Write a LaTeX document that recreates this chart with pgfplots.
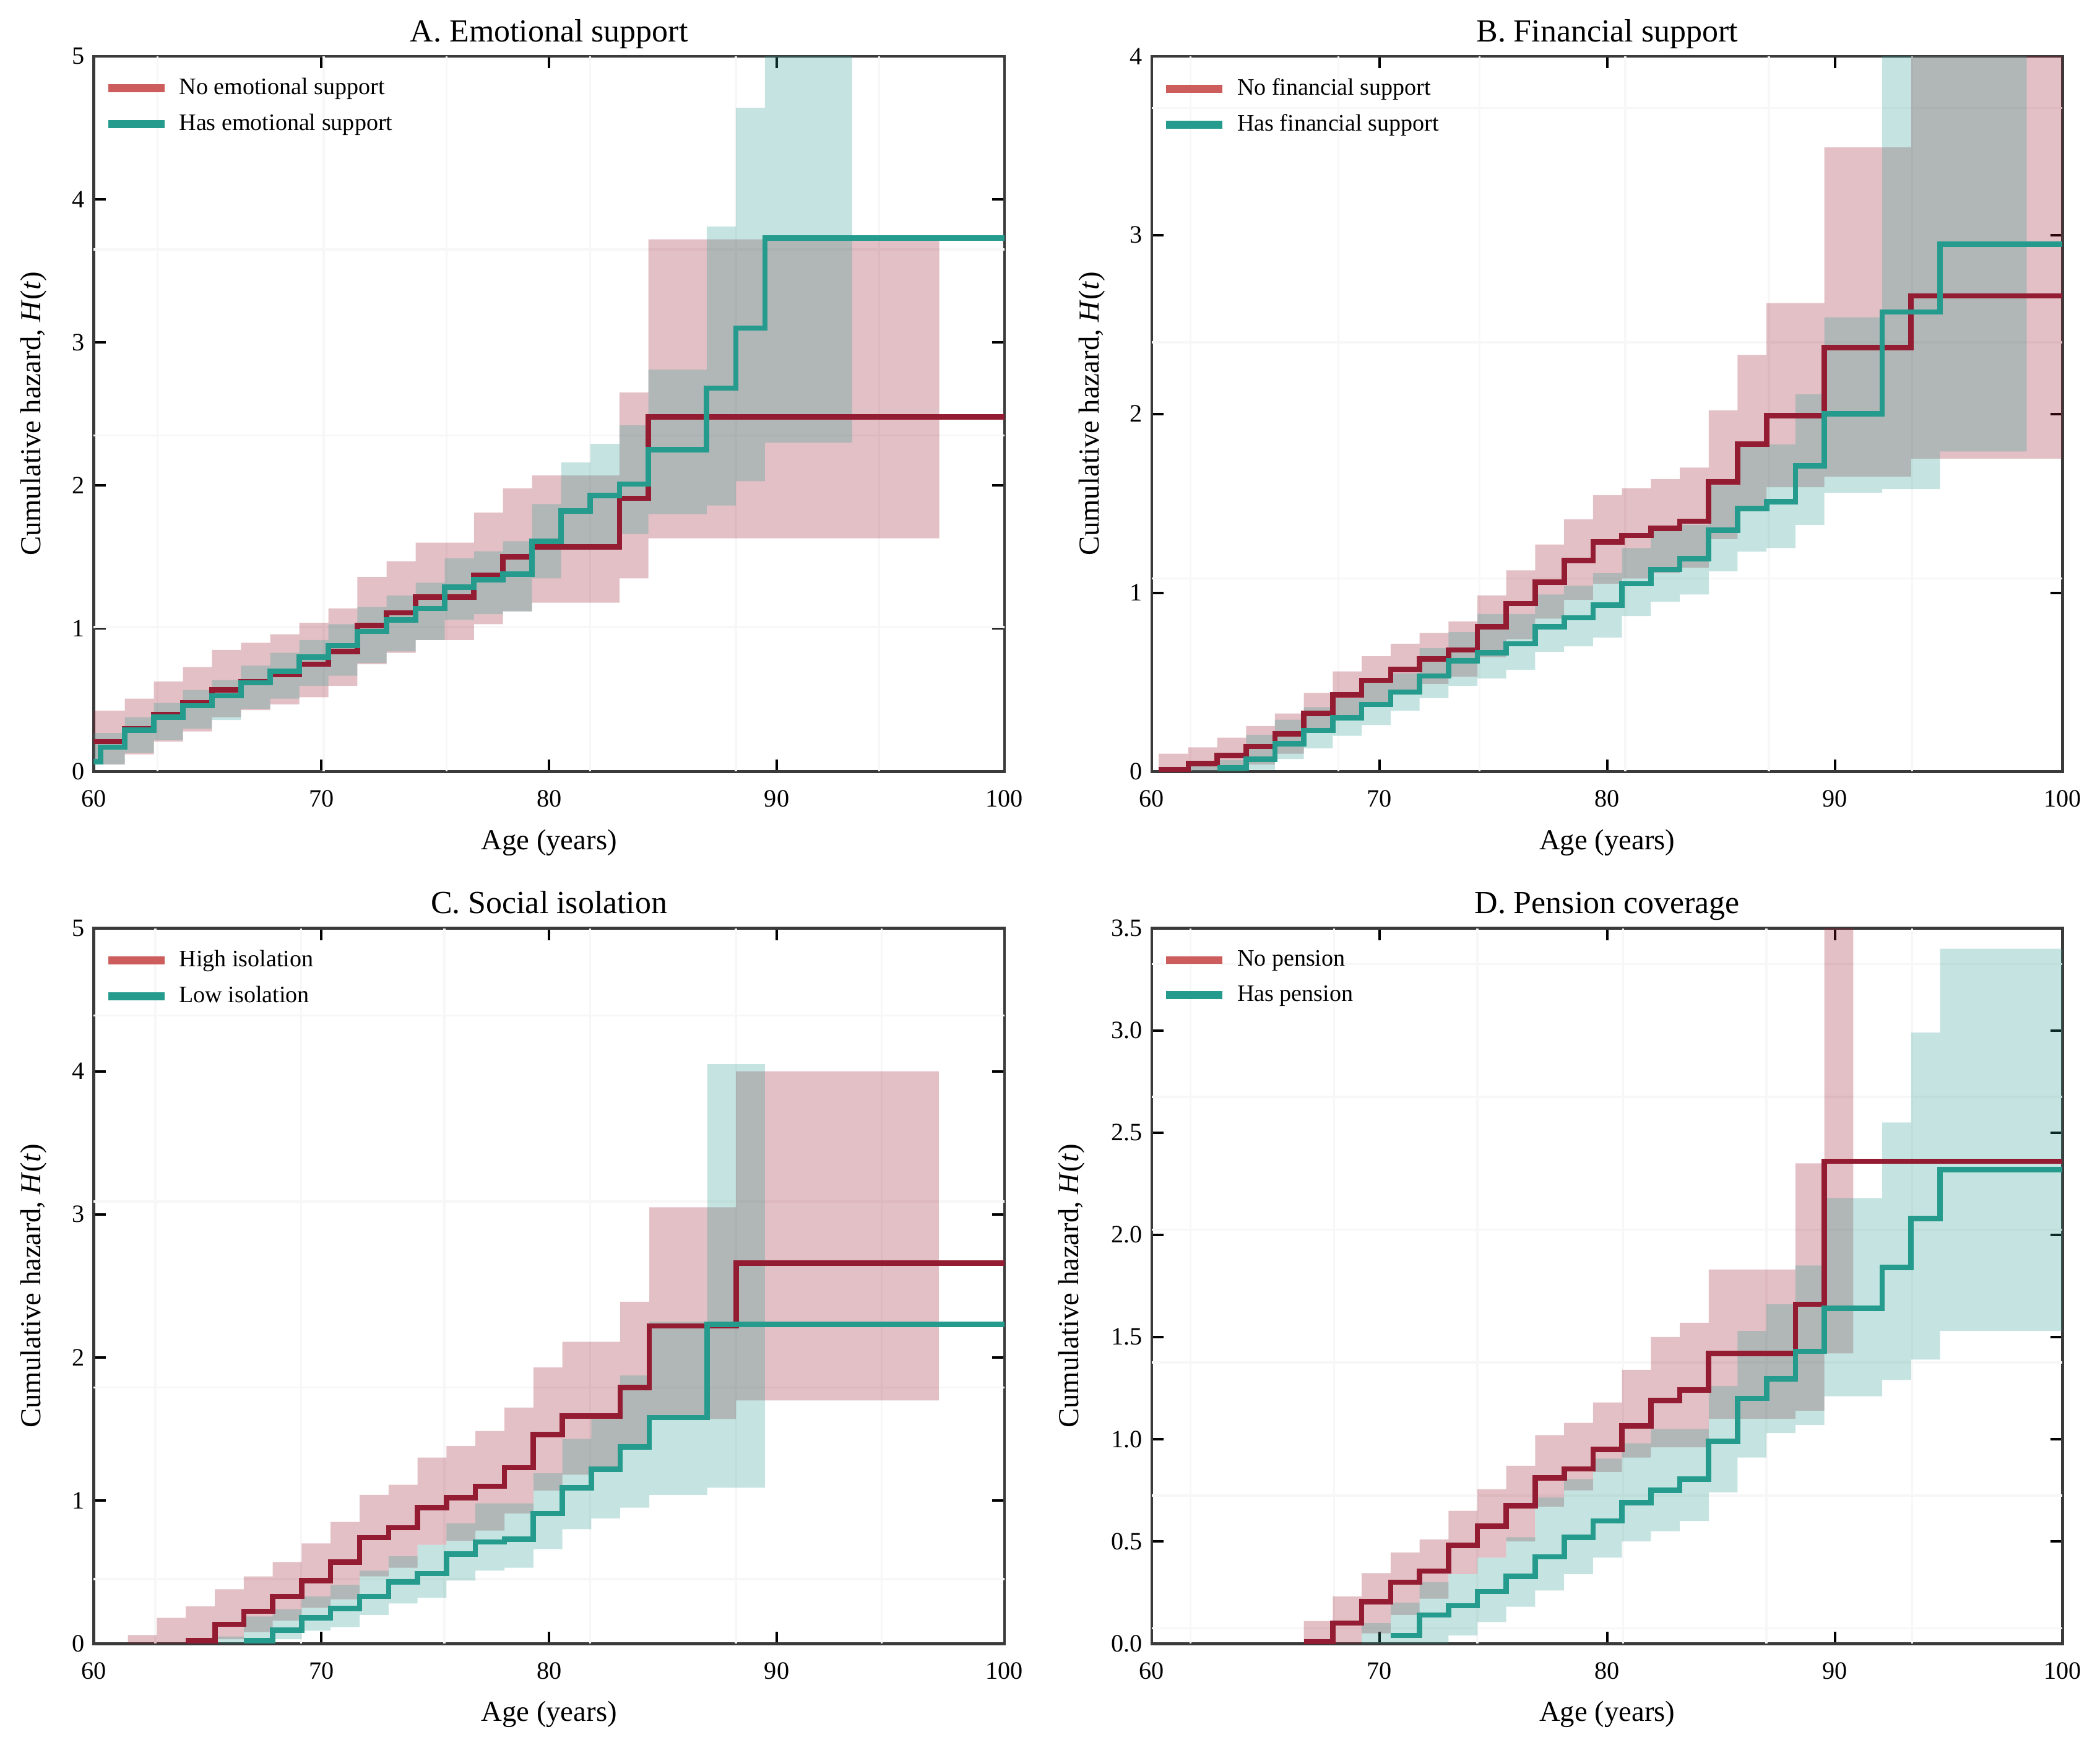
\documentclass[border=0pt]{standalone}
\usepackage{fontspec}
\setmainfont{Liberation Serif}
\usepackage{pgfplots}
\pgfplotsset{compat=1.18}
\definecolor{redline}{RGB}{148,28,50}
\definecolor{legred}{RGB}{205,92,92}
\definecolor{tealc}{RGB}{36,155,141}
\definecolor{bandred}{RGB}{155,27,48}
\definecolor{bandteal}{RGB}{42,157,143}
\definecolor{frame}{RGB}{58,58,58}
\pgfplotsset{
  kmstyle/.style={
    scale only axis, width=340pt, height=267pt,
    xmin=60, xmax=100, xtick={60,70,80,90,100},
    axis line style={draw=frame, line width=1.1pt},
    tick align=inside, major tick length=4.5pt,
    tick style={black, line width=0.9pt},
    /pgf/number format/assume math mode=true,
    every tick label/.append style={font=\fontsize{9.3}{11}\selectfont},
    xticklabel style={yshift=-3.5pt},
    clip=true,
    title style={font=\fontsize{12}{14}\selectfont, at={(0.5,1)}, anchor=base, yshift=-0.5pt},
    xlabel={Age (years)},
    xlabel style={font=\fontsize{10.8}{12}\selectfont, at={(axis description cs:0.5,-0.099)}, anchor=center},
    ylabel={Cumulative hazard, \textit{H}(\textit{t})},
    ylabel style={font=\fontsize{10.8}{12}\selectfont, anchor=center},
    extra x tick labels={}, extra y tick labels={},
    extra x tick style={grid=major, major tick length=0pt},
    extra y tick style={grid=major, major tick length=0pt},
    major grid style={color=black!3, line width=0.8pt},
    legend cell align=left,
    legend style={at={(axis description cs:0.005,0.985)}, anchor=north west, draw=none, fill=none,
      font=\fontsize{8.8}{10}\selectfont, row sep=1.8pt, inner sep=2pt,
      nodes={inner xsep=4pt}},
    legend image code/.code={\draw[#1] (0pt,0pt) -- (21pt,0pt);},
  },
  rband/.style={const plot, fill=bandred, fill opacity=0.28, draw=none, forget plot},
  tband/.style={const plot, fill=bandteal, fill opacity=0.27, draw=none, forget plot},
  rl/.style={redline, line width=2pt, const plot, forget plot},
  tl/.style={tealc, line width=2pt, const plot, forget plot},
}
\begin{document}
\begin{tikzpicture}
\path[use as bounding box] (0pt,0pt) rectangle (784pt,-651.35pt);

% ---------------- A ----------------
\begin{axis}[kmstyle, at={(35pt,-288pt)}, anchor=south west,
  title={A. Emotional support}, ymin=0, ymax=5, ytick={0,1,2,3,4,5},
  ylabel style={at={(axis description cs:-0.066,0.5)}},
  extra x ticks={62.8,70.1,75.5,81.8,88.2,94.5}, extra y ticks={1.01,2.35,3.65}]
\addlegendimage{legred, line width=3pt}\addlegendentry{No emotional support}
\addlegendimage{tealc, line width=3pt}\addlegendentry{Has emotional support}
% band: upper (forward) then lower (backward)
\addplot[rband] coordinates {(60,0.425)(61.36,0.51)(62.64,0.63)(63.92,0.73)(65.19,0.85)(66.47,0.90)(67.75,0.96)(69.03,1.04)(70.31,1.14)(71.58,1.36)(72.86,1.47)(74.14,1.60)(76.70,1.81)(77.97,1.98)(79.25,2.07)(83.09,2.65)(84.36,3.72)(97.14,3.72)
 (97.14,1.63)(84.36,1.35)(83.09,1.18)(79.25,1.12)(77.97,1.03)(76.70,0.92)(74.14,0.83)(72.86,0.75)(71.58,0.60)(70.31,0.52)(69.03,0.47)(67.75,0.43)(66.47,0.38)(65.19,0.28)(63.92,0.21)(62.64,0.12)(61.36,0.05)(60,0.05)};
\addplot[tband] coordinates {(60,0.27)(61.36,0.38)(62.64,0.48)(63.92,0.57)(65.19,0.64)(66.47,0.74)(67.75,0.83)(69.03,0.92)(70.31,1.03)(71.58,1.15)(72.86,1.23)(74.14,1.32)(75.42,1.49)(76.70,1.54)(77.97,1.61)(79.25,1.87)(80.53,2.16)(81.81,2.29)(83.09,2.42)(84.36,2.81)(86.92,3.81)(88.20,4.64)(89.48,6)(93.31,6)
 (93.31,2.30)(89.48,2.03)(88.20,1.86)(86.92,1.80)(84.36,1.66)(83.09,1.55)(80.53,1.35)(79.25,1.12)(77.97,1.10)(76.70,1.06)(75.42,0.92)(74.14,0.84)(72.86,0.76)(71.58,0.67)(70.31,0.60)(69.03,0.51)(67.75,0.44)(66.47,0.36)(65.19,0.30)(63.92,0.22)(62.64,0.13)(61.36,0.05)(60,0.05)};
\addplot[rl] coordinates {(60,0.21)(61.36,0.30)(62.64,0.40)(63.92,0.48)(65.19,0.57)(66.47,0.63)(67.75,0.68)(69.03,0.75)(70.31,0.84)(71.58,1.02)(72.86,1.11)(74.14,1.22)(76.70,1.37)(77.97,1.50)(79.25,1.57)(83.09,1.91)(84.36,2.48)(100,2.48)};
\addplot[tl] coordinates {(60,0.07)(60.3,0.17)(61.36,0.29)(62.64,0.38)(63.92,0.46)(65.19,0.53)(66.47,0.62)(67.75,0.70)(69.03,0.80)(70.31,0.88)(71.58,0.98)(72.86,1.06)(74.14,1.14)(75.42,1.29)(76.70,1.34)(77.97,1.38)(79.25,1.61)(80.53,1.82)(81.81,1.93)(83.09,2.01)(84.36,2.25)(86.92,2.68)(88.20,3.10)(89.48,3.73)(100,3.73)};
\end{axis}

% ---------------- B ----------------
\begin{axis}[kmstyle, at={(430pt,-288pt)}, anchor=south west,
  title={B. Financial support}, ymin=0, ymax=4, ytick={0,1,2,3,4},
  ylabel style={at={(axis description cs:-0.066,0.5)}},
  extra x ticks={61.7,68.2,74.4,80.8,87.1,93.4}, extra y ticks={1.08,2.40,3.71}]
\addlegendimage{legred, line width=3pt}\addlegendentry{No financial support}
\addlegendimage{tealc, line width=3pt}\addlegendentry{Has financial support}
\addplot[rband] coordinates {(60.3,0.10)(61.60,0.135)(62.87,0.19)(64.14,0.255)(65.41,0.325)(66.68,0.44)(67.95,0.56)(69.22,0.645)(70.49,0.715)(71.76,0.775)(73.03,0.84)(74.30,0.985)(75.57,1.125)(76.84,1.27)(78.11,1.41)(79.38,1.545)(80.65,1.585)(81.92,1.635)(83.19,1.70)(84.46,2.02)(85.73,2.33)(87.00,2.62)(89.54,3.49)(93.35,5)(100,5)
 (100,1.75)(93.35,1.65)(89.54,1.59)(87.00,1.455)(85.73,1.30)(84.46,1.14)(83.19,1.11)(81.92,1.08)(80.65,1.05)(79.38,0.96)(78.11,0.855)(76.84,0.74)(75.57,0.64)(74.30,0.53)(73.03,0.49)(71.76,0.43)(70.49,0.38)(69.22,0.31)(67.95,0.22)(66.68,0.10)(65.41,0.04)(64.14,0.01)(62.87,0)(60.3,0)};
\addplot[tband] coordinates {(61.60,0.03)(62.87,0.065)(64.14,0.205)(65.41,0.29)(66.68,0.36)(67.95,0.41)(69.22,0.50)(70.49,0.55)(71.76,0.69)(73.03,0.78)(74.30,0.88)(76.84,0.99)(78.11,1.04)(79.38,1.11)(80.65,1.25)(81.92,1.37)(83.19,1.38)(84.46,1.60)(85.73,1.83)(88.27,2.11)(89.54,2.54)(92.08,5)(98.43,5)
 (98.43,1.79)(94.62,1.58)(92.08,1.56)(89.54,1.38)(88.27,1.25)(87.00,1.23)(85.73,1.12)(84.46,0.99)(83.19,0.95)(81.92,0.87)(80.65,0.75)(79.38,0.70)(78.11,0.67)(76.84,0.57)(75.57,0.52)(74.30,0.48)(73.03,0.41)(71.76,0.34)(70.49,0.26)(69.22,0.20)(67.95,0.13)(66.68,0.07)(65.41,0.01)(64.14,0)(61.60,0)};
\addplot[rl] coordinates {(60.3,0.01)(61.60,0.045)(62.87,0.09)(64.14,0.14)(65.41,0.21)(66.68,0.325)(67.95,0.43)(69.22,0.51)(70.49,0.57)(71.76,0.63)(73.03,0.68)(74.30,0.81)(75.57,0.94)(76.84,1.06)(78.11,1.18)(79.38,1.285)(80.65,1.32)(81.92,1.36)(83.19,1.40)(84.46,1.62)(85.73,1.83)(87.00,1.99)(89.54,2.37)(93.35,2.66)(100,2.66)};
\addplot[tl] coordinates {(62.87,0.02)(64.14,0.07)(65.41,0.155)(66.68,0.23)(67.95,0.30)(69.22,0.375)(70.49,0.445)(71.76,0.535)(73.03,0.62)(74.30,0.665)(75.57,0.715)(76.84,0.81)(78.11,0.86)(79.38,0.93)(80.65,1.05)(81.92,1.13)(83.19,1.19)(84.46,1.35)(85.73,1.47)(87.00,1.51)(88.27,1.71)(89.54,2.00)(92.08,2.57)(94.62,2.95)(100,2.95)};
\end{axis}

% ---------------- C ----------------
\begin{axis}[kmstyle, at={(35pt,-613.5pt)}, anchor=south west,
  title={C. Social isolation}, ymin=0, ymax=5, ytick={0,1,2,3,4,5},
  ylabel style={at={(axis description cs:-0.066,0.5)}},
  extra x ticks={62.7,69.1,75.4,81.8,88.2,94.6}, extra y ticks={0.45,1.79,3.09,4.39}]
\addlegendimage{legred, line width=3pt}\addlegendentry{High isolation}
\addlegendimage{tealc, line width=3pt}\addlegendentry{Low isolation}
\addplot[rband] coordinates {(61.50,0.06)(62.77,0.18)(64.04,0.26)(65.32,0.38)(66.59,0.47)(67.86,0.57)(69.13,0.70)(70.40,0.85)(71.68,1.04)(72.95,1.11)(74.22,1.30)(75.49,1.38)(76.76,1.485)(78.04,1.65)(79.31,1.93)(80.58,2.11)(83.12,2.39)(84.40,3.05)(88.21,4.0)(97.12,4.0)
 (97.12,1.70)(88.21,1.57)(84.40,1.36)(83.12,1.23)(81.85,1.18)(80.58,1.07)(79.31,0.91)(78.04,0.79)(76.76,0.72)(75.49,0.69)(74.22,0.53)(72.95,0.47)(71.68,0.31)(70.40,0.25)(69.13,0.16)(67.86,0.08)(66.59,0.03)(65.32,0)(61.50,0)};
\addplot[tband] coordinates {(65.32,0.05)(66.59,0.19)(67.86,0.24)(69.13,0.33)(70.40,0.41)(71.68,0.51)(72.95,0.61)(74.22,0.69)(75.49,0.84)(76.76,0.98)(79.31,1.19)(80.58,1.43)(81.85,1.57)(83.12,1.875)(84.40,2.25)(86.94,4.05)(89.48,4.05)
 (89.48,1.09)(86.94,1.04)(84.40,0.95)(83.12,0.875)(81.85,0.80)(80.58,0.66)(79.31,0.53)(78.04,0.51)(76.76,0.44)(75.49,0.32)(74.22,0.28)(72.95,0.20)(71.68,0.115)(70.40,0.09)(69.13,0.03)(67.86,0)(65.32,0)};
\addplot[rl] coordinates {(64.04,0.02)(65.32,0.135)(66.59,0.225)(67.86,0.33)(69.13,0.44)(70.40,0.57)(71.68,0.74)(72.95,0.81)(74.22,0.95)(75.49,1.02)(76.76,1.10)(78.04,1.23)(79.31,1.46)(80.58,1.59)(83.12,1.79)(84.40,2.22)(88.21,2.66)(100,2.66)};
\addplot[tl] coordinates {(66.59,0.02)(67.86,0.095)(69.13,0.18)(70.40,0.245)(71.68,0.33)(72.95,0.43)(74.22,0.49)(75.49,0.625)(76.76,0.71)(78.04,0.73)(79.31,0.91)(80.58,1.09)(81.85,1.22)(83.12,1.375)(84.40,1.58)(86.94,2.23)(100,2.23)};
\end{axis}

% ---------------- D ----------------
\begin{axis}[kmstyle, at={(430pt,-613.5pt)}, anchor=south west,
  title={D. Pension coverage}, ymin=0, ymax=3.5, ytick={0,0.5,1,1.5,2,2.5,3,3.5},
  yticklabel style={/pgf/number format/.cd, fixed, fixed zerofill, precision=1},
  ylabel style={at={(axis description cs:-0.088,0.5)}},
  extra x ticks={61.7,68.0,74.3,80.7,87.0,93.4}, extra y ticks={0.075,0.725,1.375,2.025,2.675,3.325}]
\addlegendimage{legred, line width=3pt}\addlegendentry{No pension}
\addlegendimage{tealc, line width=3pt}\addlegendentry{Has pension}
\addplot[rband] coordinates {(66.68,0.11)(67.95,0.23)(69.22,0.345)(70.49,0.445)(71.76,0.51)(73.03,0.65)(74.30,0.755)(75.57,0.87)(76.84,1.02)(78.11,1.08)(79.38,1.18)(80.65,1.34)(81.92,1.50)(83.19,1.57)(84.46,1.83)(88.27,2.35)(89.54,5)(90.81,5)
 (90.81,1.42)(89.54,1.14)(88.27,1.10)(84.46,0.96)(81.92,0.91)(80.65,0.84)(79.38,0.75)(78.11,0.67)(76.84,0.50)(75.57,0.42)(74.30,0.34)(73.03,0.22)(71.76,0.14)(70.49,0.05)(69.22,0)(66.68,0)};
\addplot[tband] coordinates {(69.22,0.10)(70.49,0.20)(71.76,0.30)(73.03,0.34)(74.30,0.42)(75.57,0.52)(76.84,0.715)(78.11,0.805)(79.38,0.905)(80.65,0.98)(81.92,1.05)(84.46,1.26)(85.73,1.53)(87.00,1.66)(88.27,1.85)(89.54,2.18)(92.08,2.55)(93.35,2.99)(94.62,3.40)(100,3.40)
 (100,1.53)(94.62,1.39)(93.35,1.29)(92.08,1.21)(89.54,1.07)(88.27,1.03)(87.00,0.91)(85.73,0.74)(84.46,0.60)(83.19,0.55)(81.92,0.50)(80.65,0.42)(79.38,0.34)(78.11,0.26)(76.84,0.18)(75.57,0.105)(74.30,0.04)(73.03,0)(69.22,0)};
\addplot[rl] coordinates {(66.68,0.01)(67.95,0.10)(69.22,0.205)(70.49,0.30)(71.76,0.355)(73.03,0.48)(74.30,0.575)(75.57,0.675)(76.84,0.81)(78.11,0.855)(79.38,0.95)(80.65,1.065)(81.92,1.19)(83.19,1.24)(84.46,1.42)(88.27,1.66)(89.54,2.36)(100,2.36)};
\addplot[tl] coordinates {(70.49,0.04)(71.76,0.14)(73.03,0.185)(74.30,0.255)(75.57,0.33)(76.84,0.425)(78.11,0.52)(79.38,0.60)(80.65,0.69)(81.92,0.75)(83.19,0.805)(84.46,0.99)(85.73,1.20)(87.00,1.295)(88.27,1.43)(89.54,1.64)(92.08,1.84)(93.35,2.08)(94.62,2.32)(100,2.32)};
\end{axis}
\end{tikzpicture}
\end{document}
